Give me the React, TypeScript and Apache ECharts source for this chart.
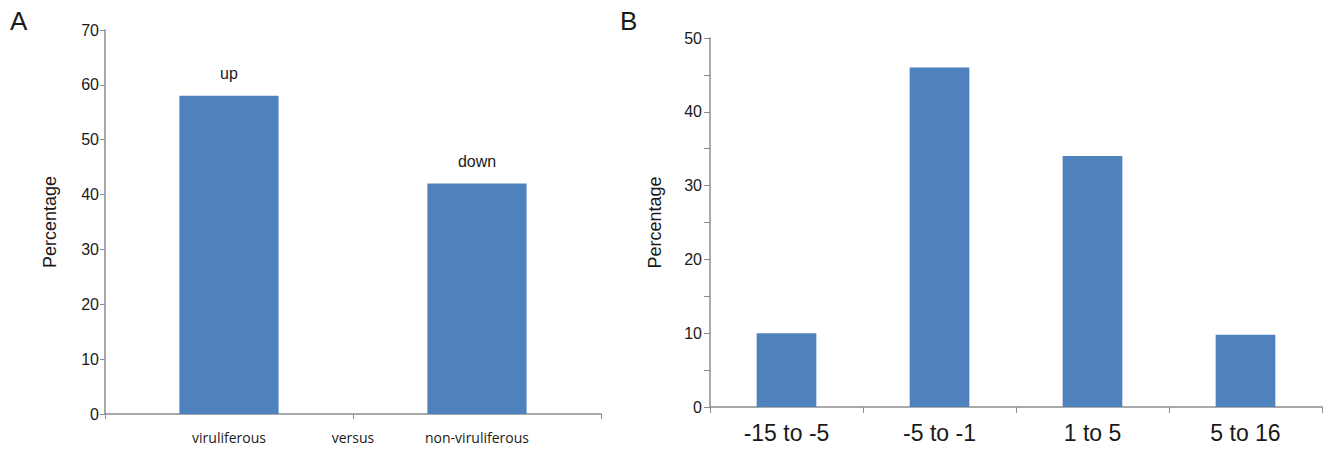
import React, { useEffect, useRef } from "react";
import * as echarts from "echarts";

const leftCategories = ["viruliferous", "non-viruliferous"];
const leftValues = [58, 42];
const leftBarLabels = ["up", "down"];
const leftBetweenLabel = "versus";

const rightCategories = ["-15 to -5", "-5 to -1", "1 to 5", "5 to 16"];
const rightValues = [10, 46, 34, 9.8];

const BAR = "#4f81bd";
const AXIS = "#8c8c8c";
const TEXT = "#1a1a1a";
const SANS = "'Liberation Sans', Arial, sans-serif";

export default function App() {
  const ref = useRef<HTMLDivElement>(null);
  useEffect(() => {
    if (!ref.current) return;
    const chart = echarts.init(ref.current, undefined, { renderer: "svg" });
    chart.setOption({
      animation: false,
      backgroundColor: "#ffffff",
      textStyle: { fontFamily: SANS },
      grid: [
        { left: 105, top: 30, width: 496, height: 384 },
        { left: 710, top: 38, width: 612, height: 369 },
      ],
      xAxis: [
        {
          type: "category",
          gridIndex: 0,
          data: leftCategories,
          axisLine: { lineStyle: { color: AXIS, width: 1.5 } },
          axisTick: { show: true, length: 5, lineStyle: { color: AXIS } },
          axisLabel: {
            color: TEXT,
            fontSize: 14,
            fontFamily: "'Open Sans', sans-serif",
            margin: 16,
          },
        },
        {
          type: "category",
          gridIndex: 1,
          data: rightCategories,
          axisLine: { lineStyle: { color: AXIS, width: 1.5 } },
          axisTick: { show: true, length: 6, lineStyle: { color: AXIS } },
          axisLabel: { color: TEXT, fontSize: 23, margin: 14 },
        },
      ],
      yAxis: [
        {
          type: "value",
          gridIndex: 0,
          min: 0,
          max: 70,
          interval: 10,
          name: "Percentage",
          nameLocation: "middle",
          nameGap: 46,
          nameTextStyle: { fontSize: 18, color: TEXT },
          axisLine: { show: true, lineStyle: { color: AXIS, width: 1.5 } },
          axisTick: { show: true, length: 5, lineStyle: { color: AXIS } },
          axisLabel: { color: TEXT, fontSize: 16, margin: 6 },
          splitLine: { show: false },
        },
        {
          type: "value",
          gridIndex: 1,
          min: 0,
          max: 50,
          interval: 5,
          name: "Percentage",
          nameLocation: "middle",
          nameGap: 46,
          nameTextStyle: { fontSize: 18, color: TEXT },
          axisLine: { show: true, lineStyle: { color: AXIS, width: 1.5 } },
          axisTick: { show: true, length: 6, lineStyle: { color: AXIS } },
          axisLabel: {
            color: TEXT,
            fontSize: 16,
            margin: 8,
            formatter: (v: number) => (v % 10 === 0 ? String(v) : ""),
          },
          splitLine: { show: false },
        },
      ],
      series: [
        {
          type: "bar",
          xAxisIndex: 0,
          yAxisIndex: 0,
          barWidth: "40%",
          itemStyle: { color: BAR },
          data: leftValues,
          label: {
            show: true,
            position: "top",
            distance: 14,
            color: TEXT,
            fontSize: 16,
            formatter: (p: any) => leftBarLabels[p.dataIndex],
          },
        },
        {
          type: "bar",
          xAxisIndex: 1,
          yAxisIndex: 1,
          barWidth: "39%",
          itemStyle: { color: BAR },
          data: rightValues,
        },
      ],
      graphic: [
        {
          type: "text",
          left: 10,
          top: 8,
          style: { text: "A", fontSize: 26, fill: TEXT, fontFamily: SANS },
        },
        {
          type: "text",
          left: 620,
          top: 8,
          style: { text: "B", fontSize: 26, fill: TEXT, fontFamily: SANS },
        },
        {
          type: "text",
          x: 353,
          y: 437,
          style: {
            text: leftBetweenLabel,
            fontSize: 14,
            fill: TEXT,
            fontFamily: "'Open Sans', sans-serif",
            align: "center",
            verticalAlign: "middle",
          },
        },
      ],
    });
    return () => chart.dispose();
  }, []);
  return (
    <div
      ref={ref}
      style={{ position: "absolute", left: 0, top: 0, width: 1324, height: 450 }}
    />
  );
}
